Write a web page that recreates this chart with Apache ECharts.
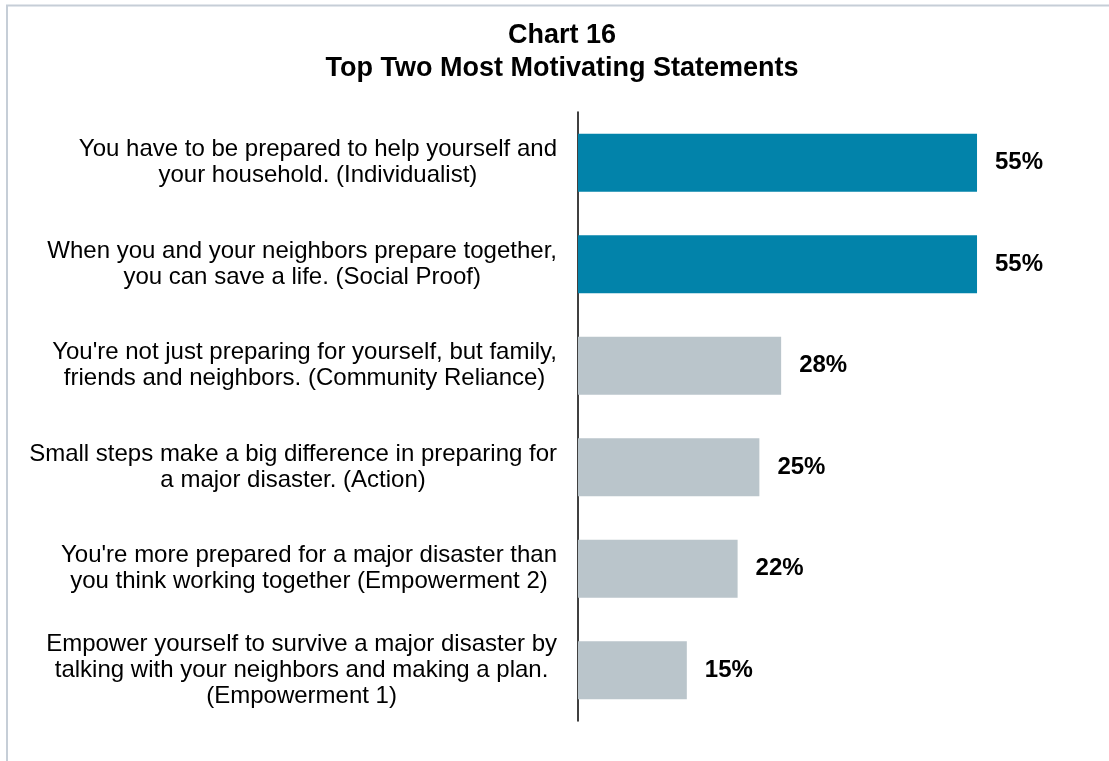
<!DOCTYPE html>
<html>
<head>
<meta charset="utf-8">
<script src="https://cdn.jsdelivr.net/npm/echarts@6/dist/echarts.min.js"></script>
<style>
  html, body { margin: 0; padding: 0; background: #fff; }
  #chart { width: 1109px; height: 761px; }
</style>
</head>
<body>
<div id="chart"></div>
<script>
// Statements, top to bottom
const statements = [
  "You have to be prepared to help yourself and\nyour household. (Individualist)",
  "When you and your neighbors prepare together,\nyou can save a life. (Social Proof)",
  "You're not just preparing for yourself, but family,\nfriends and neighbors. (Community Reliance)",
  "Small steps make a big difference in preparing for\na major disaster. (Action)",
  "You're more prepared for a major disaster than\nyou think working together (Empowerment 2)",
  "Empower yourself to survive a major disaster by\ntalking with your neighbors and making a plan.\n(Empowerment 1)"
];
// Share choosing each statement among their top two (%)
const percentages = [55, 55, 28, 25, 22, 15];
// The two leading statements are highlighted
const highlighted = [true, true, false, false, false, false];

const titleLines = ["Chart 16", "Top Two Most Motivating Statements"];

const TEAL = '#0283AA';
const GRAY = '#BAC5CB';
const FONT = 'Arial, "Liberation Sans", sans-serif';

const chart = echarts.init(document.getElementById('chart'), null, { renderer: 'canvas' });

chart.setOption({
  backgroundColor: '#ffffff',
  animation: false,
  title: {
    text: titleLines.join('\n'),
    left: 557,
    top: 14,
    textAlign: 'center',
    textStyle: {
      fontFamily: FONT,
      fontSize: 27,
      fontWeight: 'bold',
      color: '#000',
      lineHeight: 33
    }
  },
  graphic: [{
    type: 'rect',
    silent: true,
    shape: { x: 7, y: 5.5, width: 1200, height: 900 },
    style: { fill: 'none', stroke: '#C6CED7', lineWidth: 2 }
  }],
  grid: { left: 578, right: 95.7, top: 112, bottom: 40 },
  xAxis: {
    type: 'value',
    min: 0,
    max: 60,
    show: false
  },
  yAxis: {
    type: 'category',
    inverse: true,
    data: statements,
    axisLine: { show: true, lineStyle: { color: '#000', width: 1.5 } },
    axisTick: { show: false },
    splitLine: { show: false },
    axisLabel: {
      margin: 21,
      formatter: v => v.split('\n').map(l => '{c|' + l + '}').join('\n'),
      rich: {
        c: {
          align: 'center',
          fontFamily: FONT,
          fontSize: 24,
          lineHeight: 26,
          color: '#000'
        }
      }
    }
  },
  series: [{
    type: 'bar',
    barWidth: '57%',
    data: percentages.map((v, i) => ({
      value: v,
      itemStyle: { color: highlighted[i] ? TEAL : GRAY }
    })),
    label: {
      show: true,
      position: 'right',
      distance: 18,
      formatter: '{c}%',
      fontFamily: FONT,
      fontSize: 24,
      fontWeight: 'bold',
      color: '#000'
    }
  }]
});
</script>
</body>
</html>
